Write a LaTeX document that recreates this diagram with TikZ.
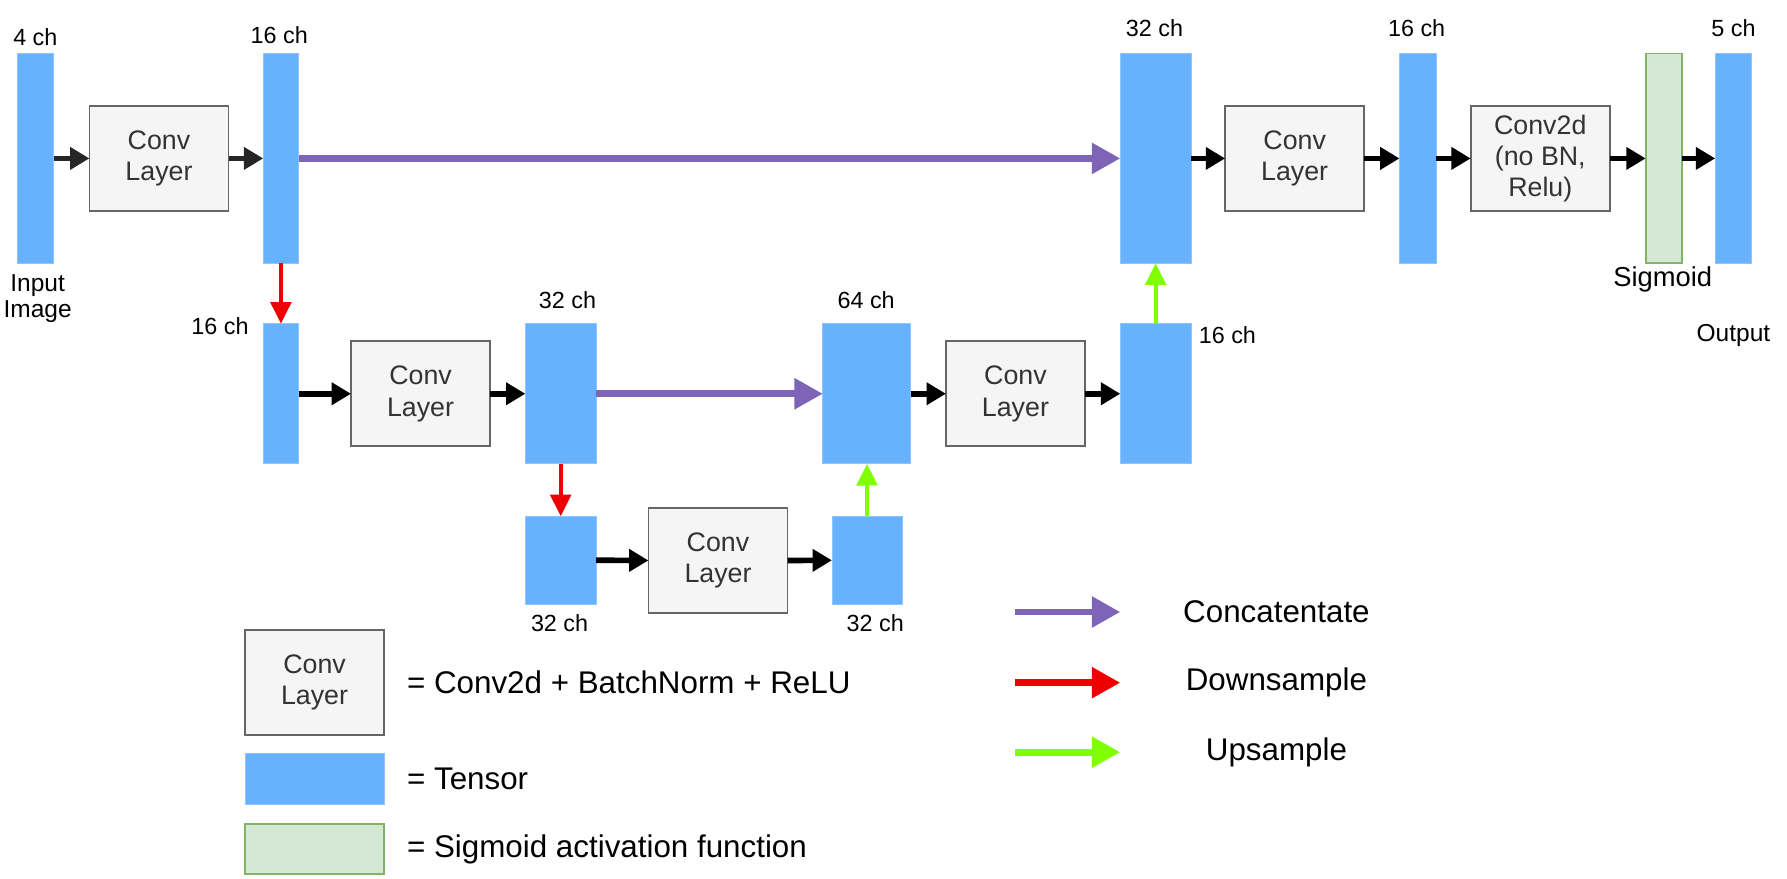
\documentclass[tikz,border=0pt]{standalone}
\usepackage{fontspec}
\setmainfont{Liberation Sans}
\usetikzlibrary{arrows.meta,positioning}
\definecolor{tensorblue}{RGB}{102,178,255}
\definecolor{convfill}{RGB}{245,245,245}
\definecolor{convline}{RGB}{102,102,102}
\definecolor{convtext}{RGB}{51,51,51}
\definecolor{sigfill}{RGB}{213,232,212}
\definecolor{sigline}{RGB}{130,179,102}
\definecolor{catpurple}{RGB}{126,100,182}
\definecolor{downred}{RGB}{238,0,0}
\definecolor{upgreen}{RGB}{128,255,0}

\tikzset{
  tensor/.style n args={2}{fill=tensorblue, draw=tensorblue!75!white, line width=0.8pt,
    inner sep=0pt, outer sep=0pt, minimum width=#1, minimum height=#2},
  convbox/.style={fill=convfill, draw=convline, line width=1.6pt, minimum width=122pt,
    minimum height=92pt, inner sep=0pt, outer sep=0pt, align=center, text=convtext,
    font=\fontsize{23.5}{27.5}\selectfont},
  sigbox/.style n args={2}{fill=sigfill, draw=sigline, line width=1.6pt, inner sep=0pt,
    outer sep=0pt, minimum width=#1, minimum height=#2},
  chlabel/.style={font=\fontsize{20.5}{23}\selectfont, align=center, inner sep=0pt},
  namelabel/.style={font=\fontsize{21.5}{23}\selectfont, align=center, inner sep=0pt},
  legtext/.style={font=\fontsize{27.5}{30}\selectfont, inner sep=0pt},
  flow/.style={draw=black, line width=5pt, -{Triangle[length=17pt,width=19pt]}},
  concat/.style={draw=catpurple, line width=6pt, -{Triangle[length=25pt,width=26pt]}},
  downs/.style={draw=downred, line width=3.5pt, -{Triangle[length=19pt,width=18pt]}},
  ups/.style={draw=upgreen, line width=3.5pt, -{Triangle[length=19pt,width=18pt]}},
  legarrow/.style={line width=6pt, -{Triangle[length=25pt,width=26pt]}},
}

\begin{document}
\begin{tikzpicture}[x=1pt, y=-1pt]
  \useasboundingbox (0,0) rectangle (1568,771);

  % Encoder, top row
  \node[tensor={32pt}{184pt}] (in) at (31,139) {};
  \node[convbox] (convA) at (139.5,139) {Conv\\Layer};
  \node[tensor={31pt}{184pt}] (encA) at (246.5,139) {};

  % Encoder, middle row
  \node[tensor={31pt}{123pt}] (encB) at (246.5,345.5) {};
  \node[convbox] (convB) at (369,345.5) {Conv\\Layer};
  \node[tensor={62pt}{123pt}] (encC) at (492,345.5) {};

  % Bottleneck
  \node[tensor={62pt}{77pt}] (botA) at (492,491.5) {};
  \node[convbox] (convC) at (630,492) {Conv\\Layer};
  \node[tensor={62pt}{77pt}] (botB) at (761,491.5) {};

  % Decoder, middle row
  \node[tensor={77pt}{123pt}] (catB) at (760.5,345.5) {};
  \node[convbox] (convD) at (891,345.5) {Conv\\Layer};
  \node[tensor={62pt}{123pt}] (decB) at (1014,345.5) {};

  % Decoder, top row
  \node[tensor={62pt}{184pt}] (catA) at (1014,139) {};
  \node[convbox] (convE) at (1136,139) {Conv\\Layer};
  \node[tensor={32pt}{184pt}] (decA) at (1244,139) {};
  \node[convbox] (convF) at (1351.5,139) {Conv2d\\(no BN,\\Relu)};
  \node[sigbox={32pt}{184pt}] (sig) at (1460,139) {};
  \node[tensor={32pt}{184pt}] (out) at (1521,139) {};

  % Channel labels
  \node[chlabel] (lblIn) at (31,33) {4 ch};
  \node[chlabel] (lblEncA) at (245,31) {16 ch};
  \node[namelabel] (lblImg) at (33,262) {Input\\Image};
  \node[chlabel] (lblEncB) at (193,286) {16 ch};
  \node[chlabel] (lblEncC) at (498,263) {32 ch};
  \node[chlabel] (lblCatB) at (760,263) {64 ch};
  \node[chlabel] (lblDecB) at (1077,294) {16 ch};
  \node[chlabel] (lblBotA) at (491,547) {32 ch};
  \node[chlabel] (lblBotB) at (768,547) {32 ch};
  \node[chlabel] (lblCatA) at (1013,25) {32 ch};
  \node[chlabel] (lblDecA) at (1243,25) {16 ch};
  \node[chlabel] (lblOut) at (1521,25) {5 ch};
  \node[namelabel, font=\fontsize{24}{26}\selectfont] (lblSig) at (1459,245) {Sigmoid};
  \node[namelabel] (lblOutput) at (1521,294) {Output};

  % Forward connections
  \draw[flow, draw=black!85] (in) -- (convA);
  \draw[flow, draw=black!85] (convA) -- (encA);
  \draw[flow] (encB) -- (convB);
  \draw[flow] (convB) -- (encC);
  \draw[flow] (botA) -- (convC);
  \draw[flow] (convC) -- (botB);
  \draw[flow] (catB) -- (convD);
  \draw[flow] (convD) -- (decB);
  \draw[flow] (catA) -- (convE);
  \draw[flow] (convE) -- (decA);
  \draw[flow] (decA) -- (convF);
  \draw[flow] (convF) -- (sig);
  \draw[flow] (sig) -- (out);

  % Skip, down and up connections
  \draw[concat] (encA) -- (catA);
  \draw[concat] (encC) -- (catB);
  \draw[downs] (encA) -- (encB);
  \draw[downs] (encC) -- (botA);
  \draw[ups] (botB) -- (catB);
  \draw[ups] (decB) -- (catA);

  % Legend, boxes
  \node[convbox] (legConv) at (276,599) {Conv\\Layer};
  \node[tensor={122pt}{45pt}] (legTensor) at (276,683.5) {};
  \node[sigbox={122pt}{44pt}] (legSig) at (276,745) {};
  \node[legtext, anchor=west] (legConvTxt) at (357,599) {= Conv2d + BatchNorm + ReLU};
  \node[legtext, anchor=west] (legTensorTxt) at (357,683.5) {= Tensor};
  \node[legtext, anchor=west] (legSigTxt) at (357,745) {= Sigmoid activation function};

  % Legend, arrows
  \coordinate (catS) at (891,537);
  \coordinate (catE) at (983,537);
  \coordinate (downS) at (891,599);
  \coordinate (downE) at (983,599);
  \coordinate (upS) at (891,660);
  \coordinate (upE) at (983,660);
  \draw[legarrow, draw=catpurple] (catS) -- (catE);
  \draw[legarrow, draw=downred] (downS) -- (downE);
  \draw[legarrow, draw=upgreen] (upS) -- (upE);
  \node[legtext] (catTxt) at (1120,537) {Concatentate};
  \node[legtext] (downTxt) at (1120,599) {Downsample};
  \node[legtext] (upTxt) at (1120,660) {Upsample};
\end{tikzpicture}
\end{document}
